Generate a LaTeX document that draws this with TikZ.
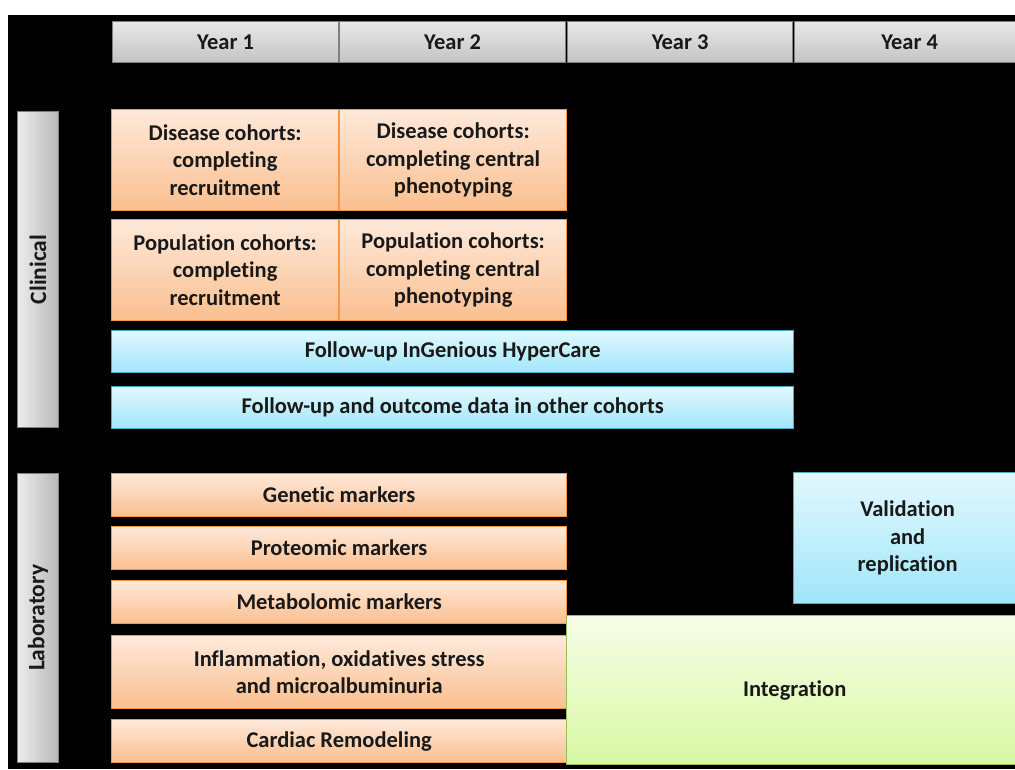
\documentclass[tikz,border=0pt]{standalone}
\usepackage{fontspec}
\setmainfont{Carlito}[Ligatures=NoCommon]
\definecolor{otop}{HTML}{FEE9DA}
\definecolor{obot}{HTML}{FABF8F}
\definecolor{oline}{HTML}{F79646}
\definecolor{btop}{HTML}{E2F8FE}
\definecolor{bbot}{HTML}{A0E6FA}
\definecolor{bline}{HTML}{4BACC6}
\definecolor{gtop}{HTML}{F7FDE8}
\definecolor{gbot}{HTML}{D8F9A2}
\definecolor{gline}{HTML}{9BBB59}
\definecolor{htop}{HTML}{E8E8E8}
\definecolor{hbot}{HTML}{C4C4C4}
\definecolor{hline}{HTML}{7F7F7F}
\definecolor{sleft}{HTML}{EDEDED}
\definecolor{sright}{HTML}{B8B8B8}
\begin{document}
\begin{tikzpicture}[x=1pt,y=-1pt,
  base/.style={anchor=north west, inner sep=0pt, align=flush center, line width=1.3pt,
    font=\bfseries\fontsize{22.5}{27.5}\selectfont, text=black!90},
  hdr/.style={base, draw=hline, top color=htop, bottom color=hbot, minimum height=41pt},
  side/.style={anchor=north west, inner sep=0pt, draw=hline, line width=0.8pt,
    left color=sleft, right color=sright, minimum width=41pt},
  sidetext/.style={rotate=90, font=\bfseries\fontsize{23.5}{27}\selectfont, text=black!90},
  obox/.style={base, draw=oline, top color=otop, bottom color=obot},
  bbox/.style={base, draw=bline, top color=btop, bottom color=bbot},
  gbox/.style={base, draw=gline, top color=gtop, bottom color=gbot}
]
\useasboundingbox (0,0) rectangle (1015,769);
\clip (0,0) rectangle (1015,769);
\fill[white] (0,0) rectangle (1015,769);
\fill[black] (8,15) rectangle (1015,769);
% headers
\node[hdr, minimum width=226pt] (y1) at (112,21) {Year 1};
\node[hdr, minimum width=226pt] (y2) at (339,21) {Year 2};
\node[hdr, minimum width=225pt] (y3) at (567,21) {Year 3};
\node[hdr, minimum width=230pt] (y4) at (794,21) {Year 4};
% side labels
\node[side, minimum height=316pt] (clin) at (17,111) {};
\node[sidetext] (clinl) at (clin.center) {Clinical};
\node[side, minimum height=289pt] (lab) at (17,473) {};
\node[sidetext] (labl) at (lab.center) {Laboratory};
% clinical
\node[obox, minimum width=227pt, minimum height=101pt, text width=220pt] (d1) at (111,109) {Disease cohorts:\\completing\\recruitment};
\node[obox, minimum width=227pt, minimum height=101pt, text width=220pt] (d2) at (339,109) {Disease cohorts:\\completing central\\phenotyping};
\node[obox, minimum width=227pt, minimum height=101pt, text width=220pt] (p1) at (111,219) {Population cohorts:\\completing\\recruitment};
\node[obox, minimum width=227pt, minimum height=101pt, text width=220pt] (p2) at (339,219) {Population cohorts:\\completing central\\phenotyping};
\node[bbox, minimum width=682pt, minimum height=42pt] (f1) at (111,330) {Follow-up InGenious HyperCare};
\node[bbox, minimum width=682pt, minimum height=42pt] (f2) at (111,386) {Follow-up and outcome data in other cohorts};
% laboratory
\node[obox, minimum width=455pt, minimum height=43pt] (gen) at (111,473) {Genetic markers};
\node[obox, minimum width=455pt, minimum height=43pt] (prot) at (111,526) {Proteomic markers};
\node[obox, minimum width=455pt, minimum height=43pt] (meta) at (111,580) {Metabolomic markers};
\node[obox, minimum width=455pt, minimum height=73pt, text width=440pt] (infl) at (111,635) {Inflammation, oxidatives stress\\and microalbuminuria};
\node[obox, minimum width=455pt, minimum height=43pt] (card) at (111,719) {Cardiac Remodeling};
\node[bbox, minimum width=228pt, minimum height=131pt, text width=220pt] (val) at (793,472) {Validation\\and\\replication};
\node[gbox, minimum width=456pt, minimum height=149pt] (integ) at (566,615) {Integration};
\end{tikzpicture}
\end{document}
